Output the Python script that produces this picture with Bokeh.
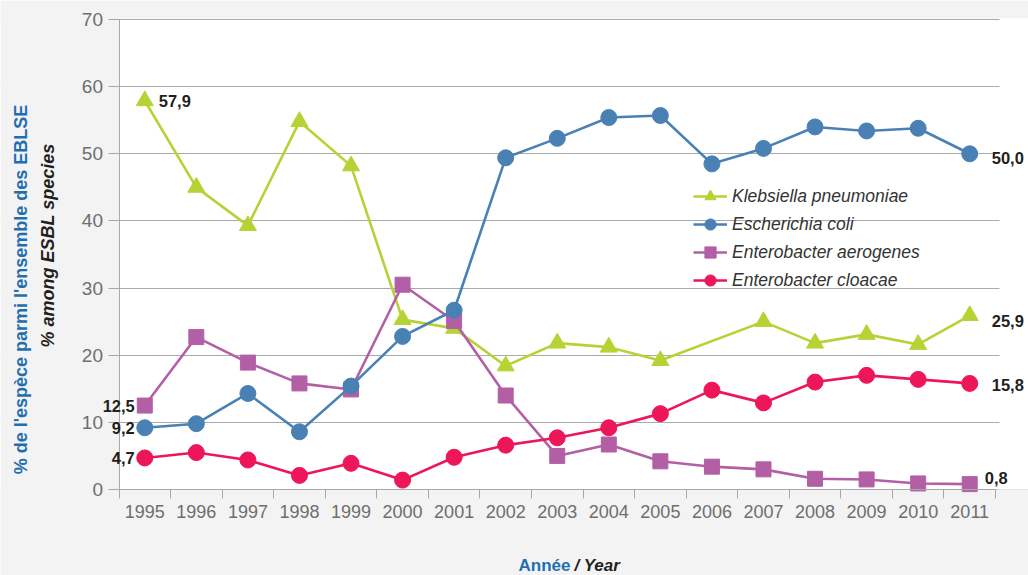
import math
from bokeh.plotting import figure
from bokeh.models import (Range1d, FixedTicker, Legend, LegendItem, Label, LabelSet,
                          ColumnDataSource, BoxAnnotation)
from bokeh.core.properties import value
from bokeh.embed import file_html
from bokeh.resources import INLINE

# ---------------- data ----------------
years = list(range(1995, 2012))
klebsiella = [57.9, 45.0, 39.3, 54.8, 48.2, 25.3, 24.0, 18.4, 21.8, 21.2, 19.2, None,
              25.0, 21.8, 23.1, 21.6, 25.9]
ecoli = [9.2, 9.8, 14.3, 8.6, 15.4, 22.8, 26.7, 49.4, 52.3, 55.4, 55.7, 48.5, 50.8,
         54.0, 53.4, 53.8, 50.0]
aerogenes = [12.5, 22.7, 18.9, 15.8, 14.9, 30.5, 25.1, 14.0, 5.0, 6.7, 4.2, 3.4, 3.0,
             1.6, 1.5, 0.9, 0.8]
cloacae = [4.7, 5.5, 4.4, 2.1, 3.9, 1.4, 4.8, 6.6, 7.7, 9.2, 11.3, 14.8, 12.9, 16.0,
           17.0, 16.4, 15.8]
series_names = ["Klebsiella pneumoniae", "Escherichia coli", "Enterobacter aerogenes",
                "Enterobacter cloacae"]
y_ticks = [0, 10, 20, 30, 40, 50, 60, 70]
y_title_fr = "% de l'espèce parmi l'ensemble des EBLSE"
y_title_en = "% among ESBL species"
x_title_fr = "Année"
x_title_en = "/ Year"

# ---------------- style ----------------
FONT = "Liberation Sans"
GREEN = "#b5d334"
BLUE = "#4a81b5"
PURPLE = "#b35fa6"
RED = "#ec1659"
BLUE_TXT = "#1f6fb0"
GRID = "#aaaaaa"
AXIS = "#a8a8a8"
TICK_TXT = "#6e6e6e"
BG = "#f3f3f3"

W, H = 1028, 575
AX_TOP_PX = 19
AX_LEFT_PX, AX_BOTTOM_PX = 118.5, 489      # where the axes sit on the page
px_per_year = (995 - 118.5) / 17.0
px_per_unit = (AX_BOTTOM_PX - AX_TOP_PX) / 70.0
x_start = (years[0] - 0.5) - AX_LEFT_PX / px_per_year
x_end = x_start + W / px_per_year
y_start = -(H - AX_BOTTOM_PX) / px_per_unit
y_end = 70 + AX_TOP_PX / px_per_unit

p = figure(width=W, height=H, output_backend="svg", toolbar_location=None,
           x_range=Range1d(x_start, x_end), y_range=Range1d(y_start, y_end),
           min_border_left=0, min_border_right=0, min_border_top=0,
           min_border_bottom=0)
p.border_fill_color = BG
p.background_fill_color = "white"
p.outline_line_color = None

# grey surround outside the plotting area (drawn over grid lines)
for kw in (dict(right=years[0] - 0.5), dict(top=0),
           dict(bottom=70 + 0.9 / px_per_unit)):
    p.add_layout(BoxAnnotation(fill_color=BG, fill_alpha=1, line_color=None,
                               level="underlay", **kw))
# grid lines stop a little after the last category, plot area stays white
p.add_layout(BoxAnnotation(left=years[-1] + 0.5 + 4 / px_per_year, top=70 + 0.9 / px_per_unit,
                           bottom=0, fill_color="white", fill_alpha=1, line_color=None,
                           level="underlay"))

# axes
p.xaxis.fixed_location = 0
p.xaxis.ticker = FixedTicker(ticks=years,
                             minor_ticks=[y - 0.5 for y in years] + [years[-1] + 0.5])
p.xaxis.bounds = (years[0] - 0.5, years[-1] + 0.5)
p.xaxis.major_tick_line_color = None
p.xaxis.major_tick_out = 0
p.xaxis.major_tick_in = 0
p.xaxis.minor_tick_out = 9
p.xaxis.minor_tick_in = 0
p.xaxis.minor_tick_line_color = AXIS
p.xaxis.axis_line_color = AXIS
p.xaxis.major_label_standoff = 6
p.xaxis.major_label_text_font = FONT
p.xaxis.major_label_text_font_size = "18px"
p.xaxis.major_label_text_color = TICK_TXT

p.yaxis.fixed_location = years[0] - 0.5
p.yaxis.ticker = FixedTicker(ticks=y_ticks, minor_ticks=[])
p.yaxis.bounds = (0, 70)
p.yaxis.axis_line_color = AXIS
p.yaxis.major_tick_line_color = AXIS
p.yaxis.major_tick_out = 11
p.yaxis.major_tick_in = 0
p.yaxis.minor_tick_line_color = None
p.yaxis.major_label_standoff = 5
p.yaxis.major_label_text_font = FONT
p.yaxis.major_label_text_font_size = "19px"
p.yaxis.major_label_text_color = TICK_TXT

p.xgrid.grid_line_color = None
p.ygrid.grid_line_color = GRID
p.ygrid.grid_line_width = 1.2

# series
def clean(vals):
    xs = [y for y, v in zip(years, vals) if v is not None]
    vs = [v for v in vals if v is not None]
    return xs, vs

specs = [
    (klebsiella, GREEN, "triangle", 17),
    (aerogenes, PURPLE, "square", 15),
    (ecoli, BLUE, "circle", 16),
    (cloacae, RED, "circle", 16),
]
rend = {}
for vals, col, mk, sz in specs:
    xs, vs = clean(vals)
    l = p.line(xs, vs, line_color=col, line_width=2.6)
    s = p.scatter(xs, vs, marker=mk, size=sz, fill_color=col, line_color=col)
    rend[col] = [l, s]

items = [LegendItem(label=name, renderers=rend[col])
         for name, col in zip(series_names, [GREEN, BLUE, PURPLE, RED])]

legend = Legend(items=items, location=(693, H - 294), orientation="vertical")
legend.background_fill_alpha = 0
legend.border_line_color = None
legend.padding = 0
legend.margin = 0
legend.spacing = 0
legend.glyph_width = 34
legend.glyph_height = 28
legend.label_height = 20
legend.label_standoff = 5
legend.label_text_font = FONT
legend.label_text_font_style = "italic"
legend.label_text_font_size = "17.5px"
legend.label_text_color = "#333333"
p.add_layout(legend, "center")

# value labels at first and last year
def fmt(v):
    return f"{v:.1f}".replace(".", ",")

first_offsets = {GREEN: (14, 0, "left"), PURPLE: (-10, 0, "right"),
                 BLUE: (-10, 0, "right"), RED: (-10, 0, "right")}
last_offsets = {GREEN: (22, -5, "left"), PURPLE: (15, 6, "left"),
                BLUE: (22, -4, "left"), RED: (22, -2, "left")}
lab = dict(x=[], y=[], t=[], dx=[], dy=[], al=[])
for vals, col, mk, sz in specs:
    for idx, offs in ((0, first_offsets), (-1, last_offsets)):
        v = vals[idx]
        dx, dy, al = offs[col]
        lab["x"].append(years[idx]); lab["y"].append(v); lab["t"].append(fmt(v))
        lab["dx"].append(dx); lab["dy"].append(dy); lab["al"].append(al)

p.add_layout(LabelSet(x="x", y="y", text="t", source=ColumnDataSource(lab),
                      x_offset="dx", y_offset="dy", text_align="al",
                      text_baseline="middle", text_font=value(FONT),
                      text_font_style="bold", text_font_size="16.5px",
                      text_color="#231f20"))

# axis titles (screen units from the frame's bottom-left = page bottom-left)
p.add_layout(Label(x=20, y=H - 289, x_units="screen", y_units="screen", text=y_title_fr,
                   angle=math.pi / 2, text_align="center", text_baseline="middle",
                   text_font=FONT, text_font_style="bold", text_font_size="18px",
                   text_color=BLUE_TXT))
p.add_layout(Label(x=47, y=H - 245, x_units="screen", y_units="screen", text=y_title_en,
                   angle=math.pi / 2, text_align="center", text_baseline="middle",
                   text_font=FONT, text_font_style="bold italic", text_font_size="18px",
                   text_color="#231f20"))
p.add_layout(Label(x=570, y=H - 565, x_units="screen", y_units="screen", text=x_title_fr,
                   text_align="right", text_baseline="middle", text_font=FONT,
                   text_font_style="bold", text_font_size="17px", text_color=BLUE_TXT))
p.add_layout(Label(x=574, y=H - 565, x_units="screen", y_units="screen", text=x_title_en,
                   text_align="left", text_baseline="middle", text_font=FONT,
                   text_font_style="bold italic", text_font_size="17px",
                   text_color="#231f20"))

open("out.html", "w").write(file_html(p, INLINE))
